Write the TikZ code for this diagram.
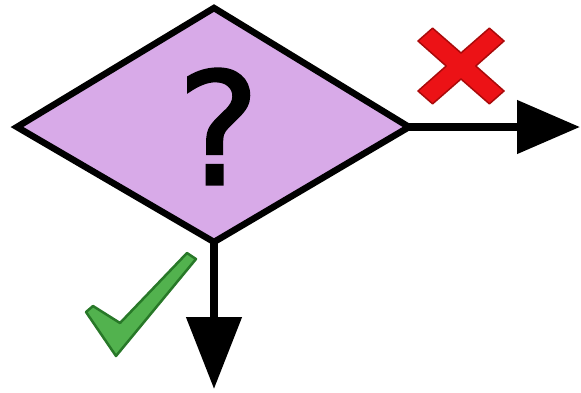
\documentclass[tikz,border=0pt]{standalone}
\usepackage{fontspec}
\setmainfont{DejaVu Sans}
\newfontfamily\qfont[FakeBold=1.6]{DejaVu Sans}
\usetikzlibrary{arrows.meta}
\definecolor{lav}{RGB}{216,170,232}
\definecolor{xred}{RGB}{236,18,22}
\definecolor{xdark}{RGB}{170,10,10}
\definecolor{chk}{RGB}{82,178,78}
\definecolor{chkdark}{RGB}{40,120,40}
\tikzset{
  decbox/.style={draw=black, fill=lav, line width=6.5pt, line join=miter},
  flow/.style={line width=8pt},
}
\begin{document}
\begin{tikzpicture}[x=1pt,y=-1pt]
\useasboundingbox (0,0) rectangle (581,392);
% diamond vertices
\coordinate (L) at (17,127);
\coordinate (T) at (214,8);
\coordinate (R) at (409,127);
\coordinate (B) at (214,242);
\coordinate (Rend) at (580,127);
\coordinate (Bend) at (214,389);
% arrows
\draw[flow, -{Triangle[length=63pt,width=52pt]}] (R) -- (Rend);
\draw[flow, -{Triangle[length=72pt,width=54pt]}] (B) -- (Bend);
% diamond
\draw[decbox] (L) -- (T) -- (R) -- (B) -- cycle;
\node[inner sep=0pt, font=\qfont\fontsize{156}{160}\selectfont] (q) at (218.5,126.5) {?};
% red cross
\begin{scope}[shift={(461,66)}, yscale=0.88]
\draw[fill=xred, draw=xdark, line width=1.5pt, line join=round]
  (0,14.8) -- (28.4,43) -- (43,28.4) -- (14.8,0) -- (43,-28.4) -- (28.4,-43)
  -- (0,-14.8) -- (-28.4,-43) -- (-43,-28.4) -- (-14.8,0) -- (-43,28.4) -- (-28.4,43) -- cycle;
\end{scope}
% green check
\draw[fill=chk, draw=chkdark, line width=2.5pt, line join=round]
  (86,312) -- (93,306) -- (120,323) -- (187,253) -- (196,259) -- (116,356) -- cycle;
\end{tikzpicture}
\end{document}
